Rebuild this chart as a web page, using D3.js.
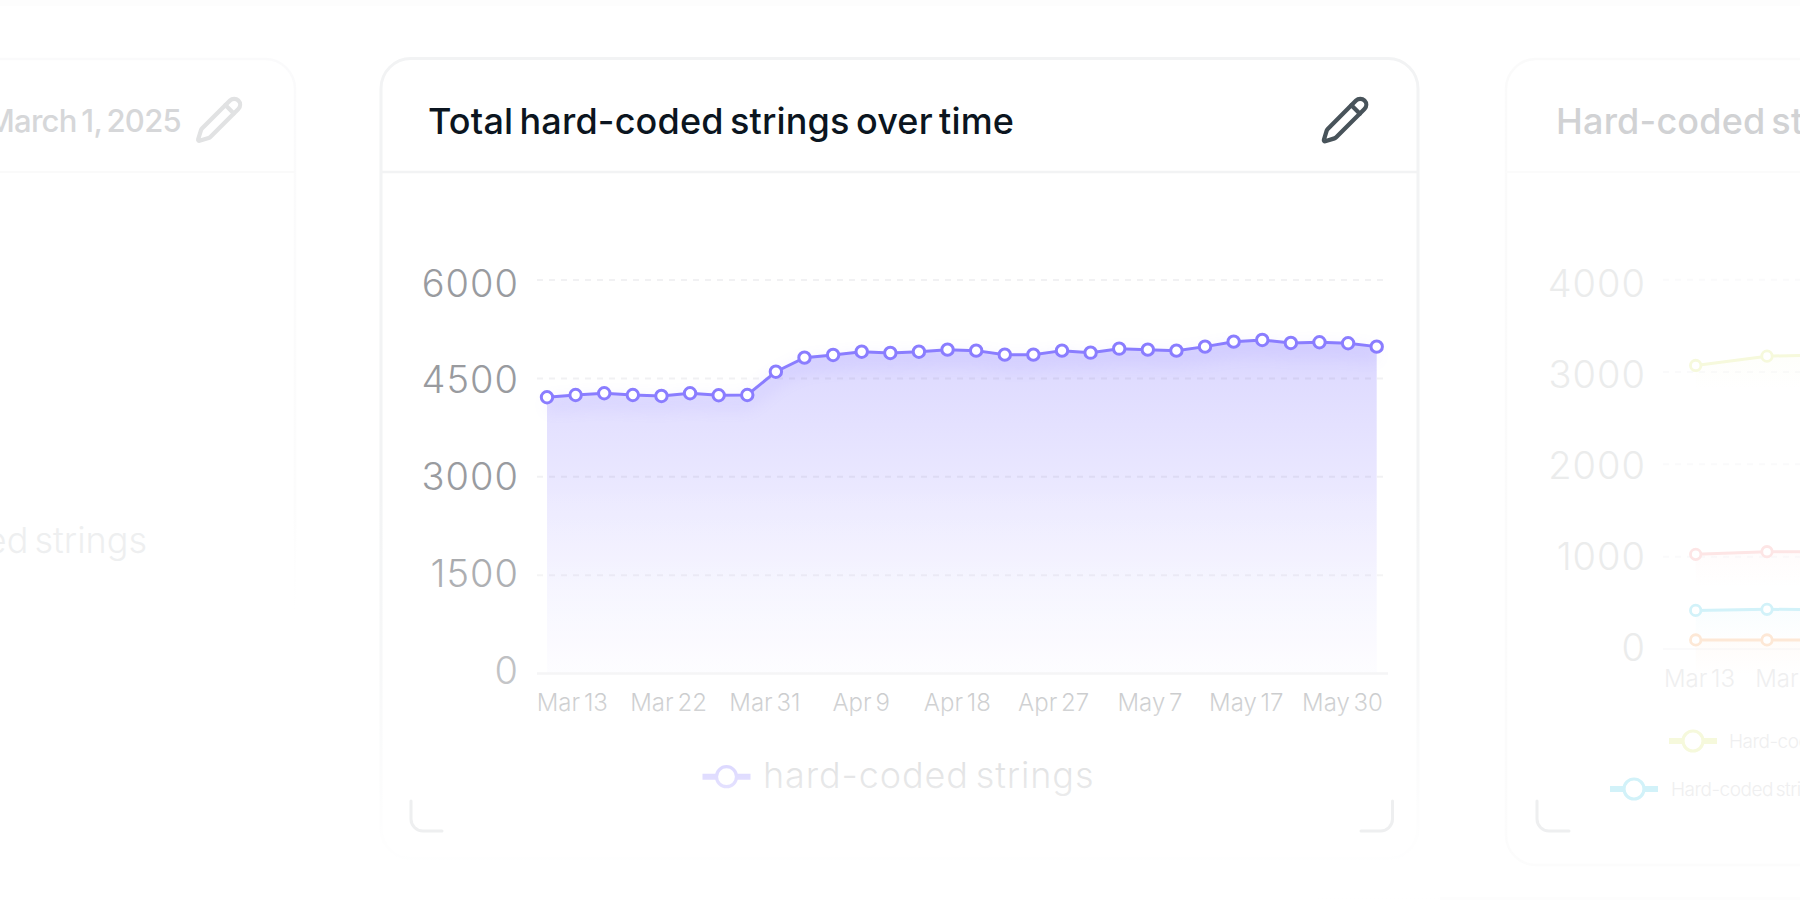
<!DOCTYPE html>
<html><head><meta charset="utf-8">
<script src="https://cdn.jsdelivr.net/npm/d3@7"></script>
<style>html,body{margin:0;padding:0;background:#fff;overflow:hidden}svg{display:block}text{font-family:Inter,"Noto Sans",sans-serif}</style>
</head><body><svg id="c" width="1800" height="900"></svg>
<script>
// ---- data ----
const pointDates = ["Mar 13","Mar 16","Mar 19","Mar 22","Mar 25","Mar 28","Mar 31","Apr 2","Apr 5","Apr 9","Apr 12","Apr 15","Apr 18","Apr 21","Apr 24","Apr 27","Apr 30","May 3","May 7","May 10","May 13","May 17","May 19","May 21","May 23","May 25","May 27","May 28","May 29","May 30"];
const hardCoded = [4212,4247,4273,4247,4232,4273,4243,4247,4602,4816,4857,4907,4888,4907,4938,4923,4862,4862,4923,4892,4953,4938,4923,4984,5060,5086,5040,5051,5036,4984];
const yTicks = [0,1500,3000,4500,6000];
const xTickLabels = ["Mar 13","Mar 22","Mar 31","Apr 9","Apr 18","Apr 27","May 7","May 17","May 30"];
const mainTitle = "Total hard-coded strings over time";
const mainLegend = "hard-coded strings";

const rightDates = ["p1","p2","p3"];
const rightTickLabels = ["Mar 13","Mar 22"];
const rightYTicks = [0,1000,2000,3000,4000];
const seriesYellow = [3071,3172,3190];
const seriesRed = [1025,1054,1054];
const seriesCyan = [418,430,425];
const seriesOrange = [98,98,98];
const rightTitle = "Hard-coded strings by type";
const rightLegendA = "Hard-coded strings";
const rightLegendB = "Hard-coded strings";
const leftDate = "March 1, 2025";
const leftLegend = "Hard-coded strings";

const PENCIL_A = "M21.174 6.812a1 1 0 0 0-3.986-3.987L3.842 16.174a2 2 0 0 0-.5.83l-1.321 4.352a.5.5 0 0 0 .623.622l4.353-1.32a2 2 0 0 0 .83-.497z";
const PENCIL_B = "m15 5 4 4";

const svg = d3.select("#c");
const defs = svg.append("defs");

function lin(id, x1,y1,x2,y2, stops){
  const g = defs.append("linearGradient").attr("id",id).attr("gradientUnits","userSpaceOnUse")
    .attr("x1",x1).attr("y1",y1).attr("x2",x2).attr("y2",y2);
  stops.forEach(s=>g.append("stop").attr("offset",s[0]).attr("stop-color",s[1]).attr("stop-opacity",s[2]===undefined?1:s[2]));
}
lin("areaG",0,340,0,673,[[0,"#8a7dff",.35],[.12,"#8a7dff",.27],[.5,"#8a7dff",.16],[1,"#8a7dff",.03]]);
lin("fade",0,440,0,870,[[0,"#fff",0],[.1,"#fff",0],[.32,"#fff",.2],[.56,"#fff",.42],[.63,"#fff",.55],[.8,"#fff",.76],[.95,"#fff",.95],[1,"#fff",.97]]);
lin("leftStroke",0,50,0,610,[[0,"#fafafb"],[.8,"#fcfcfc"],[1,"#fff"]]);
lin("rightStroke",0,50,0,870,[[0,"#fafafa"],[.85,"#fbfbfb"],[1,"#fcfcfc"]]);
defs.append("filter").attr("id","blur8").attr("x","-5%").attr("y","-30%").attr("width","110%").attr("height","160%")
  .append("feGaussianBlur").attr("stdDeviation",8);

function pencil(g,tx,ty,col,k){
  const p = g.append("g").attr("transform",`translate(${tx},${ty}) scale(${k})`)
    .attr("fill","none").attr("stroke",col).attr("stroke-width",2).attr("stroke-linecap","round").attr("stroke-linejoin","round");
  p.append("path").attr("d",PENCIL_A); p.append("path").attr("d",PENCIL_B);
}
function grid(g,scale,ticks,x1,x2,col,op){
  g.selectAll(null).data(ticks.filter(t=>t>0)).join("line")
    .attr("x1",x1).attr("x2",x2).attr("y1",d=>scale(d)).attr("y2",d=>scale(d))
    .attr("stroke",col).attr("stroke-opacity",op).attr("stroke-width",2).attr("stroke-dasharray","6 6");
}

// faint edges of the neighbouring cards above and below
svg.append("rect").attr("x",0).attr("y",0).attr("width",1800).attr("height",6).attr("fill","#fdfdfd");
svg.append("rect").attr("x",1315).attr("y",897).attr("width",485).attr("height",3).attr("fill","#fdfdfd");

// ---- left card (mostly off-page) ----
const left = svg.append("g");
left.append("rect").attr("x",-120).attr("y",59).attr("width",415).attr("height",620).attr("rx",30)
  .attr("fill","#fff").attr("stroke","url(#leftStroke)").attr("stroke-width",2.5);
left.append("line").attr("x1",0).attr("x2",295).attr("y1",172).attr("y2",172).attr("stroke","#fafafa").attr("stroke-width",2);
left.append("text").text(leftDate).attr("x",181).attr("y",132).attr("text-anchor","end")
  .attr("font-size",31).attr("font-weight",500).attr("fill","#d6d7d9").attr("letter-spacing",-0.7).attr("word-spacing",-3);
pencil(left,193.9,94.6,"#e1e2e3",2.1);
left.append("text").text(leftLegend).attr("x",147).attr("y",553).attr("text-anchor","end")
  .attr("font-size",36).attr("font-weight",300).attr("fill","#eeeff0").attr("word-spacing",-4);

// ---- right card (cut by the page edge) ----
const right = svg.append("g");
right.append("rect").attr("x",1506).attr("y",59).attr("width",700).attr("height",806).attr("rx",30)
  .attr("fill","#fff").attr("stroke","url(#rightStroke)").attr("stroke-width",2.5);
right.append("line").attr("x1",1506).attr("x2",1800).attr("y1",172).attr("y2",172).attr("stroke","#fbfbfb").attr("stroke-width",2);
right.append("text").text(rightTitle).attr("x",1556).attr("y",134)
  .attr("font-size",36).attr("font-weight",500).attr("fill","#d1d2d4").attr("letter-spacing",0.2).attr("word-spacing",-4);
const yR = d3.scaleLinear().domain([0,4000]).range([649,279.7]);
const yRL = d3.scaleLinear().domain([0,4000]).range([660,296]);
const xR = d3.scalePoint().domain(rightDates).range([1695.7,1838.3]);
const xRL = d3.scalePoint().domain(rightTickLabels).range([1699,1793]);
grid(right,yR,rightYTicks,1663,1800,"#f2f2f3",.35);
right.append("line").attr("x1",1663).attr("x2",1800).attr("y1",yR(0)).attr("y2",yR(0)).attr("stroke","#fafafb").attr("stroke-width",2);
const axRY = right.append("g").attr("transform","translate(1646,0)")
  .call(d3.axisLeft(yRL).tickValues(rightYTicks).tickSize(0).tickPadding(0).tickFormat(d3.format("d")));
axRY.select(".domain").remove();
axRY.selectAll("text").attr("dy",0).attr("font-size",38).attr("font-weight",300).attr("fill","#ebecec").attr("letter-spacing",1).style("font-family","Inter");
const axRX = right.append("g").attr("transform","translate(0,649)")
  .call(d3.axisBottom(xRL).tickSize(0).tickPadding(0));
axRX.select(".domain").remove();
axRX.selectAll("text").attr("y",38).attr("dy",0).attr("font-size",24).attr("font-weight",300).attr("fill","#efeff0").attr("word-spacing",-3).style("font-family","Inter");
[[seriesYellow,"#f6f9dc"],[seriesRed,"#fde5e5"],[seriesCyan,"#d2f2f9"],[seriesOrange,"#fde8d6"]].forEach(([vals,col])=>{
  const gid = "sg"+col.slice(1);
  lin(gid,0,yR(d3.max(vals)),0,yR(d3.max(vals))+35,[[0,col,.14],[1,col,0]]);
  right.append("path").datum(vals).attr("d",d3.area().x((d,i)=>xR(rightDates[i])).y0(d=>yR(d)+35).y1(d=>yR(d))).attr("fill",`url(#${gid})`);
  right.append("path").datum(vals).attr("fill","none").attr("stroke",col).attr("stroke-width",3)
    .attr("d",d3.line().x((d,i)=>xR(rightDates[i])).y(d=>yR(d)));
  right.selectAll(null).data(vals).join("circle").attr("cx",(d,i)=>xR(rightDates[i])).attr("cy",d=>yR(d))
    .attr("r",5.2).attr("fill","#fff").attr("stroke",col).attr("stroke-width",2.8);
});
function legendMark(g,cx,cy,half,r,col,sw,csw){
  g.append("line").attr("x1",cx-half).attr("x2",cx+half).attr("y1",cy).attr("y2",cy).attr("stroke",col).attr("stroke-width",sw);
  g.append("circle").attr("cx",cx).attr("cy",cy).attr("r",r).attr("fill","#fff").attr("stroke",col).attr("stroke-width",csw);
}
legendMark(right,1693,741,24,10,"#f6f9dc",6,3.2);
right.append("text").text(rightLegendA).attr("x",1729).attr("y",748).attr("font-size",19).attr("font-weight",300).attr("fill","#efeff0").attr("letter-spacing",-0.5).attr("word-spacing",-2);
legendMark(right,1634,789,24,10,"#d2f2f9",6,3.2);
right.append("text").text(rightLegendB).attr("x",1671).attr("y",796).attr("font-size",19).attr("font-weight",300).attr("fill","#efeff0").attr("letter-spacing",-0.5).attr("word-spacing",-2);
right.append("path").attr("fill","none").attr("stroke","#eeeff0").attr("stroke-width",3).attr("stroke-linecap","round")
  .attr("d","M1537 801V819a12 12 0 0 0 12 12H1569");

// ---- centre card ----
const card = svg.append("g");
card.append("rect").attr("x",381).attr("y",58.5).attr("width",1037).attr("height",800).attr("rx",30)
  .attr("fill","#fff").attr("stroke","#f2f3f4").attr("stroke-width",3);
card.append("line").attr("x1",381).attr("x2",1418).attr("y1",172).attr("y2",172).attr("stroke","#f2f3f4").attr("stroke-width",2.5);
card.append("text").text(mainTitle).attr("x",428).attr("y",134)
  .attr("font-size",36).attr("font-weight",500).attr("fill","#0b1520").attr("word-spacing",-3.5)
  .attr("textLength",586).attr("lengthAdjust","spacing");
pencil(card,1319.6,94.6,"#48535a",2.12);

const y = d3.scaleLinear().domain([0,6000]).range([673.5,280]);
const yL = d3.scaleLinear().domain([0,6000]).range([683,296]);
const x = d3.scalePoint().domain(pointDates).range([547,1376.7]);
const xL = d3.scalePoint().domain(xTickLabels).range([571.8,1342]);

const areaGen = d3.area().x((d,i)=>x(pointDates[i])).y0(y(0)).y1(d=>y(d));
const lineGen = d3.line().x((d,i)=>x(pointDates[i])).y(d=>y(d));

card.append("path").datum(hardCoded).attr("d",areaGen).attr("fill","url(#areaG)");
grid(card,y,yTicks,537,1388,"#77778a",.1);
card.append("path").datum(hardCoded).attr("d",lineGen).attr("fill","none")
  .attr("stroke","#8a7dff").attr("stroke-width",10).attr("opacity",.13).attr("filter","url(#blur8)")
  .attr("transform","translate(0,8)");
card.append("path").datum(hardCoded).attr("d",lineGen).attr("fill","none")
  .attr("stroke","#8a7dff").attr("stroke-width",3);
card.selectAll(".pt").data(hardCoded).join("circle").attr("class","pt")
  .attr("cx",(d,i)=>x(pointDates[i])).attr("cy",d=>y(d)).attr("r",5.7)
  .attr("fill","#fff").attr("stroke","#8a7dff").attr("stroke-width",3);
card.append("line").attr("x1",537).attr("x2",1388).attr("y1",y(0)).attr("y2",y(0)).attr("stroke","#eeeef0").attr("stroke-width",2.5);

const axY = card.append("g").attr("transform","translate(519,0)")
  .call(d3.axisLeft(yL).tickValues(yTicks).tickSize(0).tickPadding(0).tickFormat(d3.format("d")));
axY.select(".domain").remove();
axY.selectAll("text").attr("dy",0).attr("font-size",38).attr("font-weight",300).attr("fill","#999b9f").attr("letter-spacing",1).style("font-family","Inter");
const axX = card.append("g").attr("transform","translate(0,673.5)")
  .call(d3.axisBottom(xL).tickSize(0).tickPadding(0));
axX.select(".domain").remove();
axX.selectAll("text").attr("y",37.5).attr("dy",0).attr("font-size",24).attr("font-weight",300).attr("fill","#9d9fa3").attr("word-spacing",-3).style("font-family","Inter");

legendMark(card,726.5,776.7,24,10,"#8a7dff",6,3.2);
card.append("text").text(mainLegend).attr("x",763).attr("y",788)
  .attr("font-size",36).attr("font-weight",300).attr("fill","#9d9fa3").attr("word-spacing",-4)
  .attr("textLength",330.5).attr("lengthAdjust","spacing");

// fade of the lower part of the card
svg.append("rect").attr("x",360).attr("y",440).attr("width",1080).attr("height",460).attr("fill","url(#fade)");

// inner corner brackets
const brk = svg.append("g").attr("fill","none").attr("stroke","#eeeff0").attr("stroke-width",3).attr("stroke-linecap","round");
brk.append("path").attr("d","M411 801V819a12 12 0 0 0 12 12H442");
brk.append("path").attr("d","M1392.5 801V819a12 12 0 0 1 -12 12H1361");
</script></body></html>
